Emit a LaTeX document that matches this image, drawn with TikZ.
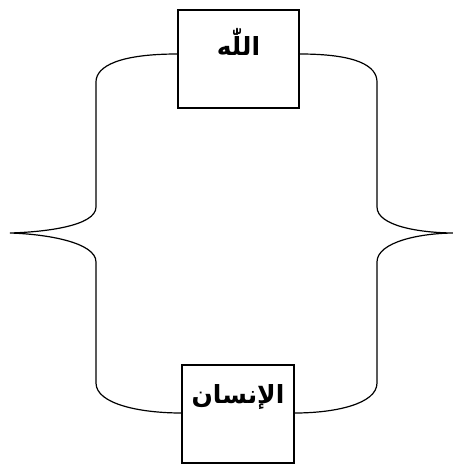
\documentclass[tikz,border=0pt]{standalone}
\usepackage{fontspec}
\newfontfamily\arabicfont[Script=Arabic]{DejaVu Sans}
\TeXXeTstate=1
\begin{document}
\begin{tikzpicture}[x=1pt,y=-1pt,
  box/.style={draw,line width=1.5pt,minimum width=#1,inner sep=0pt},
  lbl/.style={font=\arabicfont\bfseries\fontsize{25}{28}\selectfont,inner sep=0pt},
  brace/.style={line width=1.2pt}]
\useasboundingbox (0,0) rectangle (453,464);
\node[box=121pt,minimum height=98pt] (top) at (238.5,59) {};
\node[lbl] (toptxt) at (238.5,42) {\beginR اللّٰه\endR};
\node[box=112pt,minimum height=98pt] (bot) at (238,414) {};
\node[lbl] (bottxt) at (238,397) {\beginR الإنسان\endR};
\coordinate (ltip) at (10,233);
\coordinate (rtip) at (455,233);
\draw[brace] ([yshift=5pt]top.west) .. controls (120,54) and (96,66) .. (96,82)
  -- (96,207) .. controls (96,226) and (45,232) .. (ltip)
  .. controls (45,234) and (96,242) .. (96,262)
  -- (96,383) .. controls (96,404) and (140,413) .. ([yshift=1pt]bot.west);
\draw[brace] ([yshift=5pt]top.east) .. controls (357,54) and (377,66) .. (377,82)
  -- (377,207) .. controls (377,226) and (420,233) .. (rtip)
  .. controls (420,233) and (377,242) .. (377,262)
  -- (377,383) .. controls (377,404) and (335,413) .. ([yshift=1pt]bot.east);
\end{tikzpicture}
\end{document}
